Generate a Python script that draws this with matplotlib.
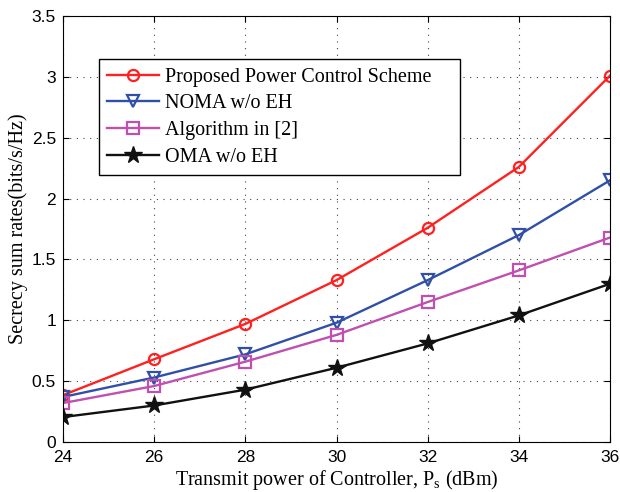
import numpy as np
import matplotlib.pyplot as plt

power = [24, 26, 28, 30, 32, 34, 36]
proposed = [0.385, 0.68, 0.97, 1.33, 1.76, 2.26, 3.01]
noma = [0.37, 0.53, 0.72, 0.98, 1.33, 1.70, 2.15]
algo2 = [0.32, 0.46, 0.66, 0.88, 1.15, 1.41, 1.68]
oma = [0.205, 0.30, 0.43, 0.61, 0.81, 1.04, 1.30]

fig = plt.figure(figsize=(6.2, 4.92), dpi=100)
ax = fig.add_axes([0.1016, 0.1016, 0.8823, 0.8659])

ax.plot(power, proposed, color='#ff2020', lw=1.7, marker='o', ms=8, mfc='none', mew=1.6,
        label='Proposed Power Control Scheme    ')
ax.plot(power, noma, color='#3050a8', lw=1.7, marker='v', ms=9, mfc='none', mew=1.6,
        label='NOMA w/o EH')
ax.plot(power, algo2, color='#c050b0', lw=1.7, marker='s', ms=8, mfc='none', mew=1.6,
        label='Algorithm in [2]')
ax.plot(power, oma, color='#111111', lw=1.7, marker='*', ms=13, mfc='#111111', mew=1,
        label='OMA w/o EH')

ax.set_xlim(24, 36)
ax.set_ylim(0, 3.5)
ax.set_xticks(np.arange(24, 37, 2))
ax.set_yticks(np.arange(0, 3.51, 0.5))
ax.set_yticklabels(['0', '0.5', '1', '1.5', '2', '2.5', '3', '3.5'])
ax.grid(True, ls=(0, (1, 5)), color='#444444', lw=0.8)
ax.tick_params(direction='in', top=True, right=True, labelsize=12.5, length=4)
ax.tick_params(axis='x', pad=6)
ax.tick_params(axis='y', pad=5)
for lab in ax.get_xticklabels() + ax.get_yticklabels():
    lab.set_family('Liberation Sans')

ax.set_xlabel('Transmit power of Controller, P$_\\mathregular{s}$ (dBm)', family='Liberation Serif', fontsize=14.5, labelpad=2)
ax.set_ylabel('Secrecy sum rates(bits/s/Hz)', family='Liberation Serif', fontsize=14.5, labelpad=3)

leg = ax.legend(loc='upper left', bbox_to_anchor=(0.065, 0.898), prop={'family': 'Liberation Serif', 'size': 14.5},
                fancybox=False, edgecolor='black', framealpha=1, handlelength=2.6, borderpad=0.4,
                labelspacing=0.38, handletextpad=0.3, borderaxespad=0)
leg.get_frame().set_linewidth(1.0)

fig.savefig('out.png', dpi=100)
